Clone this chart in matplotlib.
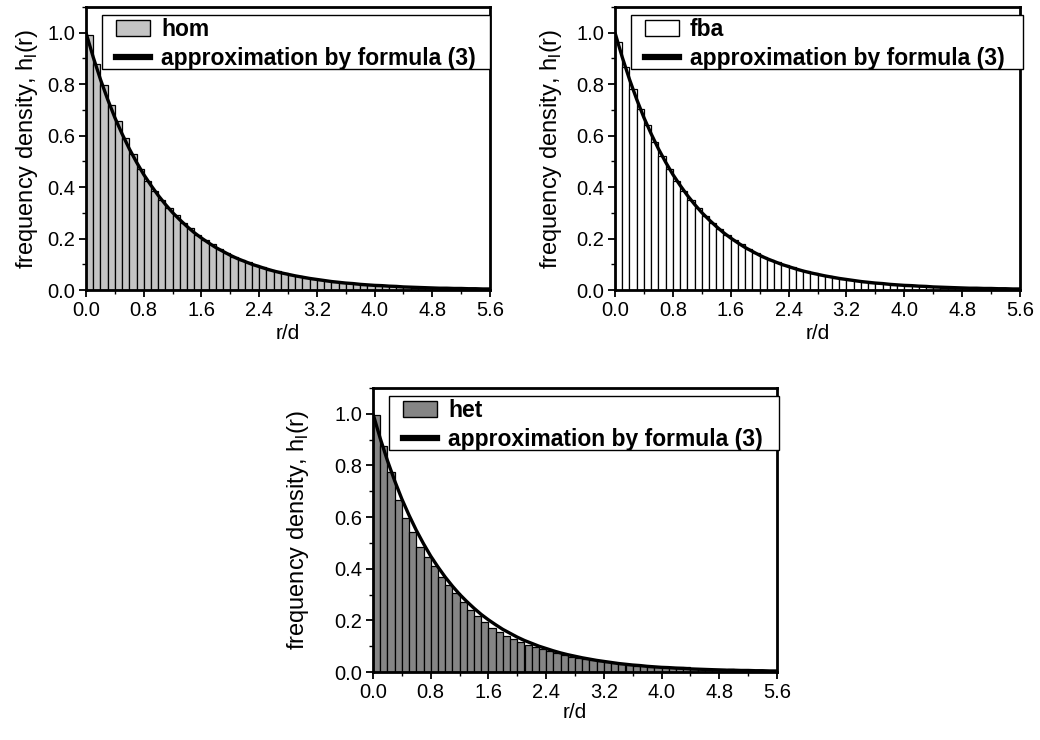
import matplotlib
matplotlib.use("Agg")
import matplotlib.pyplot as plt
from matplotlib.ticker import MultipleLocator, FormatStrFormatter
from matplotlib.patches import Patch, Rectangle
from matplotlib.lines import Line2D

plt.rcParams['font.family'] = ['Liberation Sans', 'DejaVu Sans']

# bin left edges (width 0.1) from 0.0 to 5.5
bin_width = 0.1
bin_edges = [round(i * 0.1, 1) for i in range(56)]

hom = [0.99, 0.88, 0.795, 0.72, 0.655, 0.59, 0.53, 0.47, 0.425, 0.385,
       0.35, 0.32, 0.29, 0.26, 0.24, 0.215, 0.195, 0.177, 0.16, 0.145,
       0.13, 0.118, 0.107, 0.097, 0.088, 0.079, 0.072, 0.065, 0.059, 0.053,
       0.048, 0.044, 0.039, 0.035, 0.032, 0.029, 0.026, 0.024, 0.021, 0.019,
       0.017, 0.016, 0.014, 0.013, 0.012, 0.007, 0.006, 0.006, 0.006, 0.006,
       0.006, 0.006, 0.006, 0.002, 0.002, 0.002]

fba = [0.965, 0.865, 0.78, 0.705, 0.64, 0.575, 0.52, 0.47, 0.425, 0.385,
       0.35, 0.318, 0.288, 0.26, 0.237, 0.215, 0.195, 0.177, 0.16, 0.145,
       0.13, 0.118, 0.107, 0.097, 0.088, 0.079, 0.072, 0.065, 0.059, 0.053,
       0.048, 0.044, 0.039, 0.035, 0.032, 0.029, 0.026, 0.024, 0.021, 0.019,
       0.017, 0.016, 0.014, 0.013, 0.012, 0.008, 0.007, 0.007, 0.007, 0.007,
       0.007, 0.007, 0.007, 0.002, 0.002, 0.002]

het = [0.995, 0.875, 0.775, 0.667, 0.595, 0.543, 0.486, 0.445, 0.41, 0.369,
       0.337, 0.305, 0.272, 0.242, 0.215, 0.192, 0.172, 0.156, 0.141, 0.128,
       0.117, 0.106, 0.097, 0.088, 0.08, 0.073, 0.066, 0.06, 0.054, 0.049,
       0.045, 0.041, 0.037, 0.033, 0.03, 0.027, 0.025, 0.022, 0.02, 0.019,
       0.019, 0.019, 0.019, 0.019, 0.012, 0.012, 0.012, 0.012, 0.012, 0.012,
       0.004, 0.004, 0.004, 0.004, 0.004, 0.004]

# approximation curve read at r = 0.0, 0.1, ..., 5.6
curve_r = [round(i * 0.1, 1) for i in range(57)]
curve_h = [1.0, 0.905, 0.819, 0.741, 0.670, 0.607, 0.549, 0.497, 0.449, 0.407,
           0.368, 0.333, 0.301, 0.273, 0.247, 0.223, 0.202, 0.183, 0.165, 0.150,
           0.135, 0.122, 0.111, 0.100, 0.091, 0.082, 0.074, 0.067, 0.061, 0.055,
           0.050, 0.045, 0.041, 0.037, 0.033, 0.030, 0.027, 0.025, 0.022, 0.020,
           0.018, 0.017, 0.015, 0.014, 0.012, 0.011, 0.010, 0.009, 0.008, 0.007,
           0.007, 0.006, 0.006, 0.005, 0.005, 0.004, 0.004]

series_names = ['hom', 'fba', 'het']
series_data = [hom, fba, het]
series_colors = ['#c4c4c4', '#ffffff', '#858585']
curve_label = 'approximation by formula (3)'
x_label = 'r/d'
y_label = 'frequency density, h$_\\mathregular{l}$(r)'

fig = plt.figure(figsize=(10.4, 7.4), dpi=100)
positions = [
    [86 / 1040, 1 - 290 / 740, 404 / 1040, 283 / 740],
    [615 / 1040, 1 - 290 / 740, 405 / 1040, 283 / 740],
    [373 / 1040, 1 - 672 / 740, 404 / 1040, 284 / 740],
]
ylabel_x = [-0.146, -0.158, -0.186]
xlabel_y = [-0.152, -0.152, -0.141]
legend_box_right = [1.0, 1.008, 1.005]

for i, (pos, name, data, col) in enumerate(zip(positions, series_names,
                                                 series_data, series_colors)):
    ax = fig.add_axes(pos)
    ax.bar(bin_edges, data, width=bin_width, align='edge', color=col,
           edgecolor='black', linewidth=0.9, zorder=2)
    ax.plot(curve_r, curve_h, color='black', linewidth=2.4, zorder=3,
            solid_capstyle='butt')
    ax.set_xlim(0, 5.6)
    ax.set_ylim(0, 1.1)
    ax.xaxis.set_major_locator(MultipleLocator(0.8))
    ax.xaxis.set_minor_locator(MultipleLocator(0.4))
    ax.yaxis.set_major_locator(MultipleLocator(0.2))
    ax.yaxis.set_minor_locator(MultipleLocator(0.1))
    ax.xaxis.set_major_formatter(FormatStrFormatter('%.1f'))
    ax.yaxis.set_major_formatter(FormatStrFormatter('%.1f'))
    ax.tick_params(which='major', direction='out', length=5, width=1.3,
                   labelsize=14.5, pad=3)
    ax.tick_params(which='minor', direction='out', length=3, width=1.0)
    for sp in ax.spines.values():
        sp.set_linewidth(2.0)
    ax.set_xlabel(x_label, fontsize=15)
    ax.set_ylabel(y_label, fontsize=17)
    ax.xaxis.set_label_coords(0.5, xlabel_y[i])
    ax.yaxis.set_label_coords(ylabel_x[i], 0.5)
    ax.xaxis.label.set_va('center')
    ax.yaxis.label.set_va('center')

    # legend frame drawn as a rectangle (axes coords)
    x0, y0, y1 = 0.04, 0.78, 0.972
    x1 = legend_box_right[i]
    frame = Rectangle((x0, y0), x1 - x0, y1 - y0, transform=ax.transAxes,
                      facecolor='white', edgecolor='black', linewidth=1.0,
                      clip_on=False, zorder=4)
    ax.add_patch(frame)
    handles = [Patch(facecolor=col, edgecolor='black', linewidth=1.0),
               Line2D([0], [0], color='black', linewidth=4.5)]
    leg = ax.legend(handles, [name, curve_label], loc='upper left',
                    bbox_to_anchor=(x0 + 0.035, y1 - 0.011),
                    prop={'size': 16.5, 'weight': 'bold'}, frameon=False,
                    borderaxespad=0, handlelength=1.45, handleheight=0.65,
                    handletextpad=0.5, borderpad=0.0, labelspacing=0.25)
    leg.set_zorder(5)

fig.savefig('out.png', dpi=100)
